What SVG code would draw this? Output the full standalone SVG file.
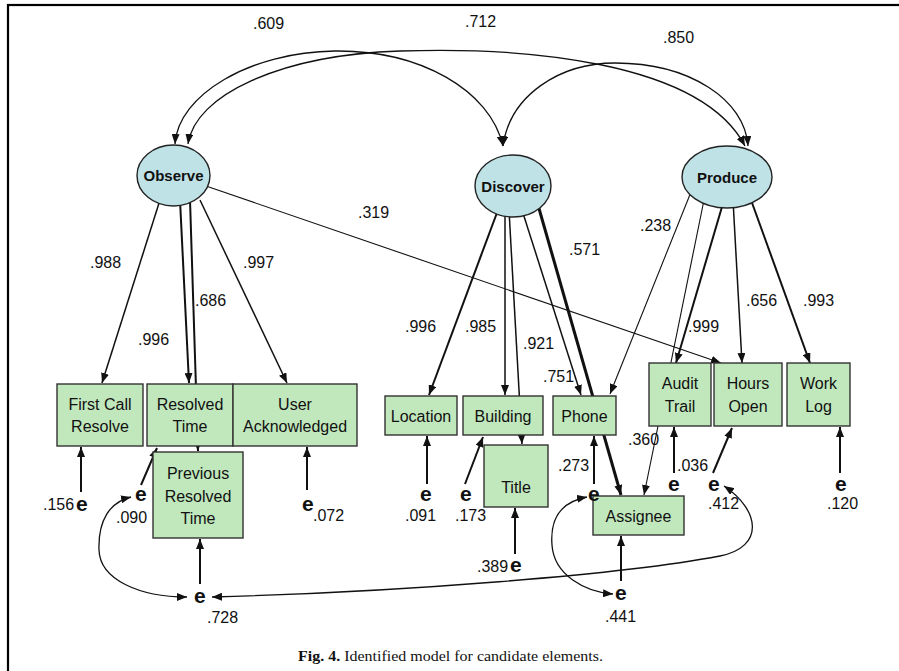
<svg xmlns="http://www.w3.org/2000/svg" width="899" height="671" viewBox="0 0 899 671">
<style>
.frame{fill:none;stroke:#000;stroke-width:2.2}
.lat{fill:#bfe2e6;stroke:#222;stroke-width:1.4}
.obs{fill:#c1e8bd;stroke:#333;stroke-width:1.4}
.ln{fill:none;stroke:#111;stroke-width:1.5;marker-end:url(#ah)}
.w1{stroke-width:1.1}
.w2{stroke-width:2}
.w3{stroke-width:3}
.cov{fill:none;stroke:#111;stroke-width:1.3;marker-start:url(#ah);marker-end:url(#ah)}
text{font-family:"Liberation Sans",Arial,sans-serif;fill:#111}
.lt{font-size:15px;font-weight:bold;text-anchor:middle}
.bt{font-size:16px;text-anchor:middle}
.num{font-size:16px}
.e{font-size:21px;font-weight:bold}
.cap{font-family:"Liberation Serif","Times New Roman",serif;font-size:15px}
</style>
<defs>
<marker id="ah" viewBox="0 0 10 8" markerWidth="10" markerHeight="8" refX="10" refY="4" orient="auto-start-reverse" markerUnits="userSpaceOnUse"><path d="M0,0 L10,4 L0,8 z" fill="#111"/></marker>
</defs>

<rect class="frame" x="8" y="5" width="900" height="680"/>

<g id="connectors">
  <!-- latent covariances -->
  <path class="cov" d="M175,144 C178,95 250,52 335,51 C420,50 490,90 503,146"/>
  <path class="cov" d="M188,144 C195,95 280,55 400,51 C520,47 700,60 745,146"/>
  <path class="cov" d="M503,146 C510,95 560,63 615,63 C690,63 745,100 748,146"/>

  <!-- Observe loadings -->
  <path class="ln" d="M160,200 L102,383"/>
  <path class="ln w2" d="M180,200 L189,383"/>
  <path class="ln w2" d="M190,200 L198,451"/>
  <path class="ln" d="M200,200 L287,383"/>
  <path class="ln w1" d="M206,186 L721,363"/>

  <!-- Discover loadings -->
  <path class="ln w2" d="M498,210 L429,395"/>
  <path class="ln" d="M505,210 L505,395"/>
  <path class="ln" d="M509,210 L522,444"/>
  <path class="ln" d="M522,210 L581,395"/>
  <path class="ln w3" d="M538,205 L621,495"/>

  <!-- Produce loadings -->
  <path class="ln w1" d="M695,182 L610,394"/>
  <path class="ln w1" d="M704,200 L644,495"/>
  <path class="ln w2" d="M724,200 L676,363"/>
  <path class="ln" d="M733,200 L742,363"/>
  <path class="ln w2" d="M751,200 L810,363"/>

  <!-- error terms -->
  <path class="ln w2" d="M81,492 L81,447"/>
  <path class="ln w2" d="M141,485 L157,448"/>
  <path class="ln w2" d="M307,490 L307,447"/>
  <path class="ln w2" d="M200,584 L200,539"/>
  <path class="ln w2" d="M427,484 L427,436"/>
  <path class="ln w2" d="M465,484 L483,437"/>
  <path class="ln w2" d="M515,554 L515,508"/>
  <path class="ln w2" d="M594,484 L594,436"/>
  <path class="ln w2" d="M674,473 L674,427"/>
  <path class="ln w2" d="M713,473 L732,428"/>
  <path class="ln w2" d="M840,473 L840,427"/>
  <path class="ln w2" d="M621,581 L621,536"/>

  <!-- error covariances -->
  <path class="cov" d="M131,497 C110,502 98,520 99,550 C100,580 140,597 187,597"/>
  <path class="cov" d="M212,597 C400,592 620,575 720,556 C765,547 760,510 724,486"/>
  <path class="cov" d="M587,497 C560,502 550,520 552,545 C554,575 585,592 613,594"/>
</g>

<g id="labels">
  <text class="num" x="253" y="29">.609</text>
  <text class="num" x="465" y="27">.712</text>
  <text class="num" x="663" y="43">.850</text>
  <text class="num" x="358" y="218">.319</text>
  <text class="num" x="90" y="268">.988</text>
  <text class="num" x="243" y="268">.997</text>
  <text class="num" x="195" y="306">.686</text>
  <text class="num" x="138" y="345">.996</text>
  <text class="num" x="405" y="332">.996</text>
  <text class="num" x="465" y="332">.985</text>
  <text class="num" x="523" y="349">.921</text>
  <text class="num" x="543" y="382">.751</text>
  <text class="num" x="569" y="255">.571</text>
  <text class="num" x="640" y="231">.238</text>
  <text class="num" x="688" y="332">.999</text>
  <text class="num" x="746" y="306">.656</text>
  <text class="num" x="803" y="306">.993</text>
  <text class="num" x="628" y="445">.360</text>
  <text class="num" x="558" y="471">.273</text>
  <text class="num" x="677" y="471">.036</text>
</g>

<g id="observe"><ellipse class="lat" cx="173.5" cy="175.5" rx="36.5" ry="30.5"/><text class="lt" x="173.5" y="181">Observe</text></g>
<g id="discover"><ellipse class="lat" cx="513" cy="186" rx="38" ry="31"/><text class="lt" x="513" y="191.5">Discover</text></g>
<g id="produce"><ellipse class="lat" cx="727" cy="177" rx="45" ry="31"/><text class="lt" x="727" y="182.5">Produce</text></g>

<g id="first-call-resolve"><rect class="obs" x="57" y="384" width="86" height="62"/><text class="bt" x="100" y="410">First Call</text><text class="bt" x="100" y="432">Resolve</text></g>
<g id="resolved-time"><rect class="obs" x="147" y="384" width="86" height="62"/><text class="bt" x="190" y="410">Resolved</text><text class="bt" x="190" y="432">Time</text></g>
<g id="user-acknowledged"><rect class="obs" x="233" y="384" width="124" height="62"/><text class="bt" x="295" y="410">User</text><text class="bt" x="295" y="432">Acknowledged</text></g>
<g id="previous-resolved-time"><rect class="obs" x="153" y="452" width="90" height="86"/><text class="bt" x="198" y="479">Previous</text><text class="bt" x="198" y="502">Resolved</text><text class="bt" x="198" y="524">Time</text></g>
<g id="location"><rect class="obs" x="385" y="396" width="72" height="39"/><text class="bt" x="421" y="422">Location</text></g>
<g id="building"><rect class="obs" x="463" y="396" width="80" height="39"/><text class="bt" x="503" y="422">Building</text></g>
<g id="phone"><rect class="obs" x="553" y="396" width="63" height="39"/><text class="bt" x="584.5" y="422">Phone</text></g>
<g id="title"><rect class="obs" x="484" y="445" width="64" height="62"/><text class="bt" x="516" y="493">Title</text></g>
<g id="assignee"><rect class="obs" x="593" y="496" width="91" height="39"/><text class="bt" x="638.5" y="522">Assignee</text></g>
<g id="audit-trail"><rect class="obs" x="649" y="363" width="62" height="63"/><text class="bt" x="680" y="389">Audit</text><text class="bt" x="680" y="412">Trail</text></g>
<g id="hours-open"><rect class="obs" x="714" y="363" width="68" height="63"/><text class="bt" x="748" y="389">Hours</text><text class="bt" x="748" y="412">Open</text></g>
<g id="work-log"><rect class="obs" x="787" y="363" width="63" height="63"/><text class="bt" x="818.5" y="389">Work</text><text class="bt" x="818.5" y="412">Log</text></g>

<g id="errors">
  <text class="num" x="43" y="510">.156</text><text class="e" x="76" y="511">e</text>
  <text class="e" x="135" y="501">e</text><text class="num" x="116" y="523">.090</text>
  <text class="e" x="302" y="511">e</text><text class="num" x="313" y="521">.072</text>
  <text class="e" x="194" y="603">e</text><text class="num" x="207" y="623">.728</text>
  <text class="e" x="420" y="501">e</text><text class="num" x="405" y="521">.091</text>
  <text class="e" x="460" y="501">e</text><text class="num" x="455" y="521">.173</text>
  <text class="num" x="477" y="572">.389</text><text class="e" x="510" y="572">e</text>
  <text class="e" x="588" y="501">e</text>
  <text class="e" x="668" y="491">e</text>
  <text class="e" x="708" y="491">e</text><text class="num" x="708" y="509">.412</text>
  <text class="e" x="835" y="491">e</text><text class="num" x="827" y="509">.120</text>
  <text class="e" x="615" y="600">e</text><text class="num" x="605" y="622">.441</text>
</g>

<text class="cap" x="298" y="661" textLength="305" lengthAdjust="spacingAndGlyphs"><tspan font-weight="bold">Fig. 4.</tspan> Identified model for candidate elements.</text>
</svg>
